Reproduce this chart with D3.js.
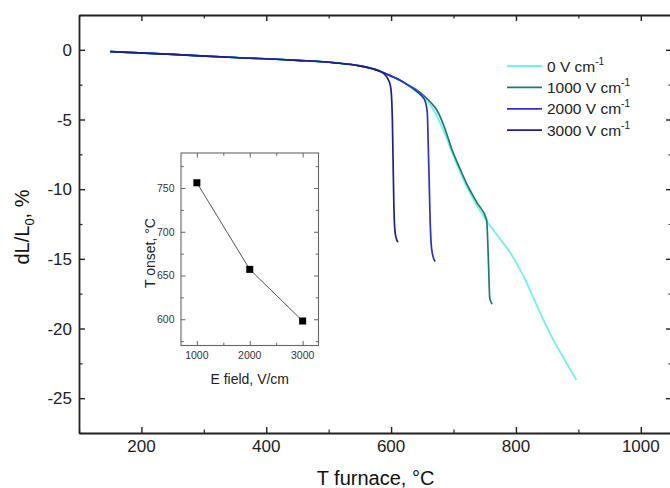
<!DOCTYPE html>
<html>
<head>
<meta charset="utf-8">
<script src="https://cdn.jsdelivr.net/npm/d3@7"></script>
<style>
  html, body { margin: 0; padding: 0; background: #fff; }
  svg { display: block; font-family: "Liberation Sans", Arial, sans-serif; }
</style>
</head>
<body>
<svg id="chart" width="670" height="488"></svg>
<script>
// Dilatometry curves: relative shrinkage vs furnace temperature, [T °C, dL/L0 %]
const field0 = [[150,-0.12],[250,-0.33],[350,-0.55],[450,-0.75],[510,-0.93],[550,-1.15],[575,-1.42],[595,-1.78],[615,-2.2],[630,-2.62],[645,-3.15],[660,-3.8],[668,-4.3],[676,-5.0],[686,-6.0],[697,-7.3],[710,-8.7],[721,-9.8],[738,-11.2],[753,-12.3],[765,-13.0],[775,-13.6],[790,-14.5],[802,-15.4],[815,-16.5],[828,-17.8],[855,-20.4],[880,-22.4],[897,-23.7]];
const field1000 = [[150,-0.12],[250,-0.33],[350,-0.55],[450,-0.75],[510,-0.93],[550,-1.15],[575,-1.42],[595,-1.78],[615,-2.2],[630,-2.6],[640,-2.85],[655,-3.4],[665,-3.85],[673,-4.3],[685,-5.5],[697,-7.1],[710,-8.5],[721,-9.6],[738,-11.0],[753,-12.2],[755,-14.0],[756.5,-16.0],[758,-17.8],[760,-18.1],[762,-18.25]];
const field2000 = [[150,-0.12],[250,-0.33],[350,-0.55],[450,-0.75],[510,-0.93],[550,-1.15],[575,-1.42],[595,-1.78],[615,-2.2],[630,-2.62],[640,-2.95],[650,-3.35],[655,-3.75],[658,-4.5],[659.3,-6.5],[661,-9.5],[662.5,-12.2],[664,-13.8],[666,-14.6],[670.5,-15.2]];
const field3000 = [[150,-0.12],[250,-0.33],[350,-0.55],[450,-0.75],[510,-0.93],[550,-1.15],[575,-1.42],[588,-1.68],[595,-2.1],[599,-2.6],[601,-3.6],[602,-5.0],[603,-7.5],[604.5,-11.3],[606,-12.9],[608,-13.5],[611,-13.8]];

const seriesNames = ["0 V cm", "1000 V cm", "2000 V cm", "3000 V cm"];
const seriesData = [field0, field1000, field2000, field3000];
const seriesColors = ["#6ff3ee", "#1b7d72", "#2c2fd9", "#1c1f8f"];

// Onset temperature vs applied field (inset)
const insetField = [1000, 2000, 3000];
const insetOnset = [756, 657, 598];

const xTicks = [200, 400, 600, 800, 1000];
const xMinor = [100, 300, 500, 700, 900];
const yTicks = [0, -5, -10, -15, -20, -25];
const yMinor = [2.5, -2.5, -7.5, -12.5, -17.5, -22.5, -27.5];
const insetXTicks = [1000, 2000, 3000];
const insetXMinor = [1500, 2500];
const insetYTicks = [600, 650, 700, 750];
const insetYMinor = [575, 625, 675, 725, 775];

const svg = d3.select("#chart");

// ---- main plot frame
const L = 79, T = 15, R = 672, B = 433;
const x = d3.scaleLinear().domain([100, 1050]).range([L, R]);
const y = d3.scaleLinear().domain([-27.5, 2.5]).range([B, T]);

const axisColor = "#222";
const frame = svg.append("g");

function tickAxis(g, axisFn, scale, major, minor, len, minLen) {
  g.call(axisFn(scale).tickValues(major).tickSizeInner(len).tickSizeOuter(0).tickFormat(""));
  g.selectAll(".tick line").attr("stroke", axisColor).attr("stroke-width", 1.4);
  g.select(".domain").attr("stroke", axisColor).attr("stroke-width", 1.8);
  const g2 = g.append("g").call(axisFn(scale).tickValues(minor).tickSizeInner(minLen).tickSizeOuter(0).tickFormat(""));
  g2.select(".domain").remove();
  g2.selectAll(".tick line").attr("stroke", axisColor).attr("stroke-width", 1.2);
}

// inward ticks: negative sizes
tickAxis(frame.append("g").attr("transform", `translate(0,${B})`), d3.axisBottom, x, xTicks, xMinor, -6, -3.5);
tickAxis(frame.append("g").attr("transform", `translate(0,${T})`), d3.axisTop, x, xTicks, xMinor, -6, -3.5);
tickAxis(frame.append("g").attr("transform", `translate(${L},0)`), d3.axisLeft, y, yTicks, yMinor, -6, -3.5);
tickAxis(frame.append("g").attr("transform", `translate(${R},0)`), d3.axisRight, y, yTicks, yMinor, -6, -3.5);

// tick labels
svg.append("g").selectAll("text").data(xTicks).join("text")
  .attr("x", d => x(d)).attr("y", 452)
  .attr("text-anchor", "middle").attr("font-size", 17).attr("fill", "#222")
  .text(d => d);
svg.append("g").selectAll("text").data(yTicks).join("text")
  .attr("x", L - 7).attr("y", d => y(d) + 6)
  .attr("text-anchor", "end").attr("font-size", 17).attr("fill", "#222")
  .text(d => d === 0 ? "0" : "-" + Math.abs(d));

// axis titles
svg.append("text").attr("x", (L + R) / 2).attr("y", 485)
  .attr("text-anchor", "middle").attr("font-size", 20).attr("fill", "#111")
  .text("T furnace, °C");
const yt = svg.append("text")
  .attr("transform", `translate(29,227) rotate(-90)`)
  .attr("text-anchor", "middle").attr("font-size", 20).attr("fill", "#111");
yt.append("tspan").text("dL/L");
yt.append("tspan").attr("font-size", 13).attr("dy", 5).text("0");
yt.append("tspan").attr("dy", -5).text(", %");

// ---- curves
const line = d3.line().x(d => x(d[0])).y(d => y(d[1])).curve(d3.curveMonotoneX);
svg.append("g").selectAll("path").data(seriesData).join("path")
  .attr("d", d => line(d))
  .attr("fill", "none")
  .attr("stroke", (d, i) => seriesColors[i])
  .attr("stroke-width", (d, i) => i === 0 ? 1.8 : 1.7)
  .attr("stroke-linejoin", "round");

// ---- legend
const legend = svg.append("g");
seriesNames.forEach((name, i) => {
  const cy = 66 + i * 21.4;
  legend.append("line").attr("x1", 507).attr("x2", 542).attr("y1", cy).attr("y2", cy)
    .attr("stroke", seriesColors[i]).attr("stroke-width", 1.8);
  const t = legend.append("text").attr("x", 547).attr("y", cy + 5.5)
    .attr("font-size", 15.5).attr("fill", "#222");
  t.append("tspan").text(name);
  t.append("tspan").attr("font-size", 10).attr("dy", -7).text("-1");
});

// ---- inset: onset temperature vs field
const iL = 181, iT = 153, iR = 318.5, iB = 345.5;
const ix = d3.scaleLinear().domain([700, 3300]).range([iL, iR]);
const iy = d3.scaleLinear().domain([570, 790]).range([iB, iT]);
const inset = svg.append("g");
inset.append("rect").attr("x", iL).attr("y", iT).attr("width", iR - iL).attr("height", iB - iT)
  .attr("fill", "#fff").attr("stroke", "#666").attr("stroke-width", 1.1);

const insetColor = "#666";
function insetTicks(g, axisFn, scale, major, minor) {
  g.call(axisFn(scale).tickValues(major).tickSizeInner(-4.5).tickSizeOuter(0).tickFormat(""));
  g.select(".domain").remove();
  g.selectAll(".tick line").attr("stroke", insetColor);
  const g2 = g.append("g").call(axisFn(scale).tickValues(minor).tickSizeInner(-2.8).tickSizeOuter(0).tickFormat(""));
  g2.select(".domain").remove();
  g2.selectAll(".tick line").attr("stroke", insetColor);
}
insetTicks(inset.append("g").attr("transform", `translate(0,${iB})`), d3.axisBottom, ix, insetXTicks, insetXMinor);
insetTicks(inset.append("g").attr("transform", `translate(0,${iT})`), d3.axisTop, ix, insetXTicks, insetXMinor);
insetTicks(inset.append("g").attr("transform", `translate(${iL},0)`), d3.axisLeft, iy, insetYTicks, insetYMinor);
insetTicks(inset.append("g").attr("transform", `translate(${iR},0)`), d3.axisRight, iy, insetYTicks, insetYMinor);

inset.append("g").selectAll("text").data(insetXTicks).join("text")
  .attr("x", d => ix(d)).attr("y", 359)
  .attr("text-anchor", "middle").attr("font-size", 10.5).attr("fill", "#333")
  .text(d => d);
inset.append("g").selectAll("text").data(insetYTicks).join("text")
  .attr("x", iL - 6.5).attr("y", d => iy(d) + 3.8)
  .attr("text-anchor", "end").attr("font-size", 10.5).attr("fill", "#333")
  .text(d => d);

inset.append("text").attr("x", (iL + iR) / 2).attr("y", 384)
  .attr("text-anchor", "middle").attr("font-size", 14).attr("fill", "#222")
  .text("E field, V/cm");
inset.append("text")
  .attr("transform", `translate(155,253) rotate(-90)`)
  .attr("text-anchor", "middle").attr("font-size", 14).attr("fill", "#222")
  .text("T onset, °C");

const insetPts = insetField.map((f, i) => [f, insetOnset[i]]);
inset.append("path")
  .attr("d", d3.line().x(d => ix(d[0])).y(d => iy(d[1]))(insetPts))
  .attr("fill", "none").attr("stroke", "#555").attr("stroke-width", 1);
inset.append("g").selectAll("rect").data(insetPts).join("rect")
  .attr("x", d => ix(d[0]) - 3.5).attr("y", d => iy(d[1]) - 3.5)
  .attr("width", 7).attr("height", 7).attr("fill", "#000");
</script>
</body>
</html>
